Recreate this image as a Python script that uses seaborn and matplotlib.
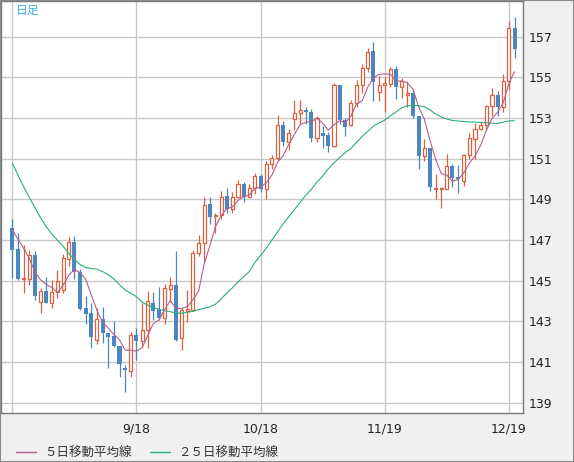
import matplotlib
matplotlib.use('Agg')
import matplotlib.pyplot as plt
import seaborn as sns
import pandas as pd
import numpy as np
from matplotlib.lines import Line2D
from matplotlib.patches import Rectangle

# daily candles, 8/19 .. 12/20
opens = [147.57, 146.56, 145.08, 145.08, 146.26, 143.97, 144.51, 143.93, 144.43, 144.55,
         146.05, 146.90, 145.41, 143.67, 143.43, 142.11, 143.11, 142.44, 142.28, 141.80,
         140.72, 140.57, 142.33, 142.05, 142.60, 143.89, 143.59, 143.15, 144.61, 144.79,
         142.21, 143.52, 143.56, 146.35, 146.84, 148.78, 148.17, 148.24, 149.17, 148.52,
         149.11, 149.75, 149.14, 149.58, 150.16, 149.52, 150.74, 151.04, 152.67, 151.82,
         152.95, 153.24, 153.37, 153.31, 152.00, 152.26, 152.18, 151.61, 154.63, 152.92,
         152.64, 153.73, 154.63, 155.45, 156.31, 154.30, 154.63, 154.66, 155.42, 154.53,
         154.15, 154.23, 153.08, 151.12, 151.52, 149.52, 149.52, 149.53, 150.65, 150.12,
         149.92, 151.20, 151.96, 152.47, 152.67, 153.58, 154.14, 153.54, 154.80, 157.44]
highs = [148.03, 147.34, 146.76, 146.51, 146.46, 144.62, 145.18, 145.03, 145.52, 146.30,
         147.16, 147.20, 145.58, 144.25, 143.90, 143.67, 143.70, 142.44, 143.02, 141.80,
         140.85, 142.46, 142.66, 143.89, 144.51, 144.45, 144.67, 144.84, 145.20, 146.46,
         143.65, 144.54, 146.51, 147.25, 149.11, 149.11, 148.35, 149.39, 149.58, 149.35,
         149.96, 149.85, 149.77, 150.29, 150.26, 150.90, 151.20, 153.16, 152.83, 152.46,
         153.86, 153.86, 153.52, 153.45, 153.08, 152.59, 152.30, 154.71, 154.63, 153.00,
         153.90, 154.88, 155.64, 156.43, 156.72, 155.04, 155.00, 155.53, 155.55, 154.98,
         154.81, 154.43, 153.08, 151.96, 151.52, 150.23, 149.60, 151.25, 150.73, 150.70,
         151.25, 152.26, 152.75, 152.79, 153.66, 154.48, 154.35, 155.14, 157.77, 157.94]
lows = [145.15, 145.03, 144.42, 144.79, 144.05, 143.43, 143.89, 143.67, 144.16, 144.40,
        145.74, 145.10, 143.56, 142.85, 141.70, 141.89, 141.95, 140.69, 141.75, 140.28,
        139.54, 140.28, 141.10, 141.75, 141.70, 143.07, 143.07, 142.87, 143.94, 142.03,
        141.62, 142.95, 143.50, 146.23, 145.89, 147.79, 147.33, 148.02, 148.35, 148.35,
        149.06, 148.85, 149.10, 149.26, 149.34, 149.04, 150.50, 150.95, 151.60, 151.44,
        152.42, 152.70, 152.70, 151.80, 151.80, 151.51, 151.31, 151.58, 152.72, 152.10,
        152.60, 153.54, 154.22, 155.25, 153.85, 153.85, 153.29, 154.50, 153.91, 153.99,
        153.53, 153.00, 150.48, 150.87, 149.40, 149.03, 148.58, 149.50, 149.62, 149.33,
        149.65, 151.00, 151.00, 152.40, 152.42, 153.10, 153.08, 153.31, 154.40, 155.93]
closes = [146.51, 145.08, 145.15, 146.26, 144.26, 144.49, 143.92, 144.44, 144.97, 146.10,
          146.90, 145.41, 143.61, 143.38, 142.25, 143.10, 142.41, 142.25, 141.80, 140.92,
          140.59, 142.33, 142.05, 142.60, 144.00, 143.53, 143.18, 144.63, 144.77, 142.08,
          143.56, 143.59, 146.35, 146.84, 148.71, 148.11, 148.24, 149.11, 148.52, 149.11,
          149.75, 149.14, 149.55, 150.13, 149.50, 150.74, 151.04, 152.67, 151.80, 152.26,
          153.24, 153.37, 153.27, 152.00, 153.00, 152.13, 151.61, 154.63, 152.92, 152.54,
          153.73, 154.63, 155.45, 156.26, 154.76, 154.63, 154.71, 155.40, 154.53, 154.81,
          154.25, 153.08, 151.12, 151.52, 149.62, 149.58, 149.58, 150.65, 150.07, 149.98,
          151.20, 152.00, 152.47, 152.67, 153.58, 154.14, 153.54, 154.83, 157.44, 156.41]

ma5 = [147.50, 147.05, 146.60, 146.10, 145.45, 145.05, 144.82, 144.67, 144.42, 144.78,
       145.27, 145.56, 145.40, 145.08, 144.31, 143.55, 142.95, 142.68, 142.36, 142.10,
       141.59, 141.58, 141.54, 141.70, 142.31, 142.90, 143.07, 143.59, 144.02, 143.64,
       143.64, 143.73, 144.07, 144.48, 145.81, 146.72, 147.65, 148.20, 148.54, 148.62,
       148.95, 149.13, 149.21, 149.54, 149.61, 149.81, 150.19, 150.82, 151.15, 151.70,
       152.20, 152.67, 152.79, 152.83, 152.98, 152.75, 152.40, 152.67, 152.86, 152.77,
       153.09, 153.69, 153.85, 154.52, 154.97, 155.15, 155.16, 155.15, 154.81, 154.82,
       154.74, 154.41, 153.56, 152.96, 151.92, 150.98, 150.28, 150.19, 149.90, 149.97,
       150.30, 150.78, 151.14, 151.66, 152.38, 152.97, 153.28, 153.75, 154.71, 155.27]
ma25 = [150.78, 150.20, 149.63, 149.10, 148.60, 148.10, 147.66, 147.30, 147.00, 146.70,
        146.35, 146.05, 145.80, 145.65, 145.60, 145.57, 145.45, 145.30, 145.10, 144.80,
        144.55, 144.38, 144.22, 143.95, 143.80, 143.68, 143.60, 143.52, 143.48, 143.42,
        143.40, 143.45, 143.50, 143.58, 143.65, 143.72, 143.85, 144.10, 144.40, 144.65,
        144.95, 145.20, 145.45, 145.90, 146.25, 146.60, 147.00, 147.40, 147.80, 148.15,
        148.50, 148.85, 149.20, 149.50, 149.85, 150.15, 150.50, 150.80, 151.05, 151.30,
        151.50, 151.80, 152.10, 152.35, 152.60, 152.75, 152.90, 153.10, 153.30, 153.50,
        153.60, 153.63, 153.60, 153.55, 153.40, 153.20, 153.05, 152.95, 152.88, 152.85,
        152.82, 152.80, 152.80, 152.78, 152.77, 152.74, 152.73, 152.80, 152.85, 152.87]

date_ticks = [0, 22, 44, 66, 88]
date_labels = ['', '9/18', '10/18', '11/19', '12/19']
price_ticks = [139, 141, 143, 145, 147, 149, 151, 153, 155, 157]
legend_labels = ['５日移動平均線', '２５日移動平均線']

UP = '#d8623f'
DOWN = '#4a87c0'
MA5_C = '#b3608e'
MA25_C = '#26b07a'
GRID = '#c8c8c8'
BG = '#f0f0f0'

sns.set_style('white')
plt.rcParams['font.family'] = ['DejaVu Sans', 'Noto Sans CJK JP']

df = pd.DataFrame({'open': opens, 'high': highs, 'low': lows, 'close': closes,
                   'ma5': ma5, 'ma25': ma25})
df['x'] = np.arange(len(df))
up = df['close'] >= df['open']

W, H = 574, 462
fig = plt.figure(figsize=(W / 100, H / 100), dpi=100, facecolor=BG)
ax = fig.add_axes([1 / W, (H - 413) / H, 522 / W, 412 / H])
ax.set_facecolor('white')

# wicks first, then bodies on top
ax.vlines(df.loc[up, 'x'], df.loc[up, 'low'], df.loc[up, 'high'], color=UP, lw=0.9, zorder=2)
ax.vlines(df.loc[~up, 'x'], df.loc[~up, 'low'], df.loc[~up, 'high'], color=DOWN, lw=0.9, zorder=2)
ax.bar(df.loc[up, 'x'], df.loc[up, 'close'] - df.loc[up, 'open'], bottom=df.loc[up, 'open'],
       width=0.55, facecolor='white', edgecolor=UP, linewidth=0.9, zorder=3)
ax.bar(df.loc[~up, 'x'], df.loc[~up, 'open'] - df.loc[~up, 'close'], bottom=df.loc[~up, 'close'],
       width=0.72, color=DOWN, linewidth=0, zorder=3)

sns.lineplot(data=df, x='x', y='ma25', ax=ax, color=MA25_C, lw=0.8, zorder=4)
sns.lineplot(data=df, x='x', y='ma5', ax=ax, color=MA5_C, lw=0.8, zorder=4)

ax.set_xlim(-2.0, 90.5)
ax.set_ylim(138.5, 158.75)
ax.set_xticks(date_ticks)
ax.set_xticklabels(date_labels)
ax.set_yticks(price_ticks)
ax.yaxis.tick_right()
ax.tick_params(axis='y', length=0, pad=4, labelsize=9, labelcolor='#222222')
ax.tick_params(axis='x', length=0, pad=7, labelsize=9, labelcolor='#222222')
ax.set_xlabel('')
ax.set_ylabel('')
ax.grid(True, color=GRID, lw=1)
ax.set_axisbelow(True)
for s in ax.spines.values():
    s.set_color('#7a7a7a')
    s.set_linewidth(1)

ax.text(15 / 522, 1 - 3 / 412, '日足', transform=ax.transAxes, ha='left', va='top',
        fontsize=8.5, color='#3aaee2', family=['Noto Sans CJK JP', 'DejaVu Sans'])

handles = [Line2D([], [], color=MA5_C, lw=1), Line2D([], [], color=MA25_C, lw=1)]
leg = fig.legend(handles, legend_labels, loc='center left', bbox_to_anchor=(16 / W, 1 - 453 / H),
                 ncol=2, frameon=False, borderpad=0, borderaxespad=0,
                 handlelength=1.6, handletextpad=0.7, columnspacing=1.4,
                 prop={'family': ['Noto Sans CJK JP', 'DejaVu Sans'], 'size': 9})
for t in leg.get_texts():
    t.set_color('#333333')

fig.patches.append(Rectangle((0, 0), 1, 1, transform=fig.transFigure, fill=False,
                             edgecolor='#8a8a8a', lw=1.5))

fig.savefig('out.png', dpi=100, facecolor=BG)
